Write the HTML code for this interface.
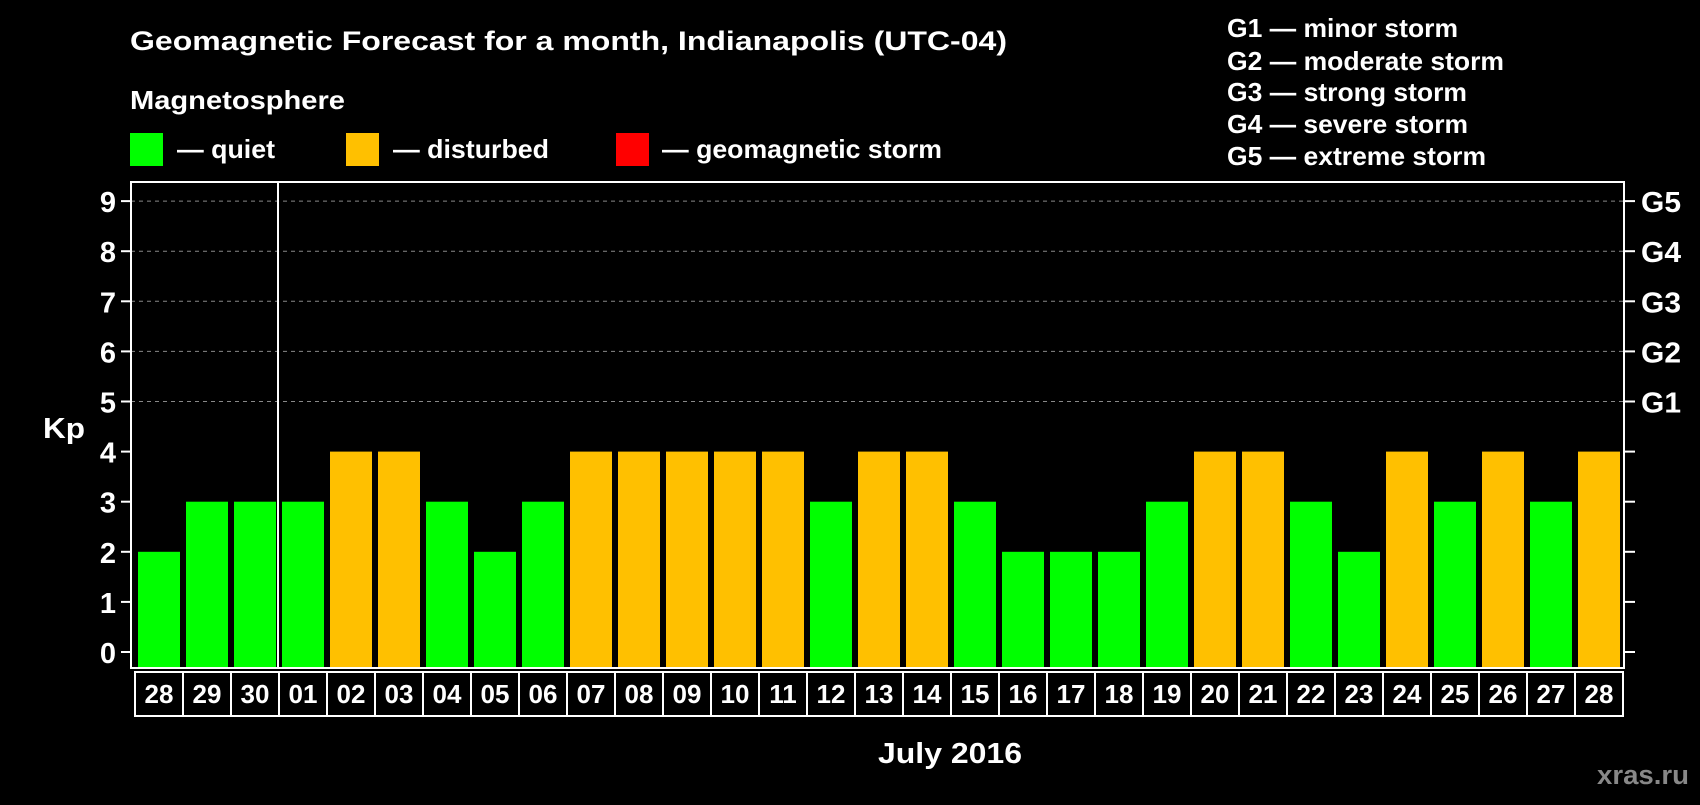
<!DOCTYPE html>
<html><head><meta charset="utf-8"><style>
body{margin:0;background:#000;width:1700px;height:800px;overflow:hidden;font-family:"Liberation Sans",sans-serif}
svg text{font-family:"Liberation Sans",sans-serif;font-weight:bold;fill:#fff}
</style></head><body>
<svg id="c" width="1700" height="800">
<text x="130" y="50" font-size="27" textLength="877" lengthAdjust="spacingAndGlyphs">Geomagnetic Forecast for a month, Indianapolis (UTC-04)</text>
<text x="130" y="109" font-size="26" textLength="215" lengthAdjust="spacingAndGlyphs">Magnetosphere</text>
<rect x="130" y="133" width="33" height="33" fill="#00ff00"/>
<text x="177" y="158" font-size="26" textLength="98" lengthAdjust="spacingAndGlyphs">— quiet</text>
<rect x="346" y="133" width="33" height="33" fill="#ffc000"/>
<text x="393" y="158" font-size="26" textLength="156" lengthAdjust="spacingAndGlyphs">— disturbed</text>
<rect x="616" y="133" width="33" height="33" fill="#ff0000"/>
<text x="662" y="158" font-size="26" textLength="280" lengthAdjust="spacingAndGlyphs">— geomagnetic storm</text>
<g font-size="26">
<text x="1227" y="37" textLength="231" lengthAdjust="spacingAndGlyphs">G1 — minor storm</text>
<text x="1227" y="70" textLength="277" lengthAdjust="spacingAndGlyphs">G2 — moderate storm</text>
<text x="1227" y="101" textLength="240" lengthAdjust="spacingAndGlyphs">G3 — strong storm</text>
<text x="1227" y="133" textLength="241" lengthAdjust="spacingAndGlyphs">G4 — severe storm</text>
<text x="1227" y="165" textLength="259" lengthAdjust="spacingAndGlyphs">G5 — extreme storm</text>
</g>
<text x="43" y="438" font-size="29" textLength="42" lengthAdjust="spacingAndGlyphs">Kp</text>
<text x="878" y="763" font-size="29" textLength="144" lengthAdjust="spacingAndGlyphs">July 2016</text>
<text x="1597" y="784" font-size="27" textLength="92" lengthAdjust="spacingAndGlyphs" style="fill:#888">xras.ru</text>
<g id="plot"></g>
</svg>
<script>
const categories=["28","29","30","01","02","03","04","05","06","07","08","09","10","11","12","13","14","15","16","17","18","19","20","21","22","23","24","25","26","27","28"];
const kpValues=[2,3,3,3,4,4,3,2,3,4,4,4,4,4,3,4,4,3,2,2,2,3,4,4,3,2,4,3,4,3,4];
const yTicks=[0,1,2,3,4,5,6,7,8,9];
const gLabels=["G1","G2","G3","G4","G5"];
const NS="http://www.w3.org/2000/svg";
const g=document.getElementById('plot');
const L=131,R=1624,T=182,B=668,x0=135,slot=48;
const y=v=>652-v*50.1;
const xs=i=>x0+i*slot;
function mk(t,a){const e=document.createElementNS(NS,t);for(const k in a)e.setAttribute(k,a[k]);g.appendChild(e);return e;}
yTicks.forEach(v=>{
  if(v>=5){const l=mk('line',{x1:L,x2:R,y1:y(v),y2:y(v),stroke:'#888','stroke-dasharray':'4,4','stroke-width':1});
  
  }
  const t1=mk('line',{x1:121,x2:L,y1:y(v),y2:y(v),stroke:'#fff','stroke-width':2});
  
  
  const t2=mk('line',{x1:R,x2:1635,y1:y(v),y2:y(v),stroke:'#fff','stroke-width':2});
  
  
  const tx=mk('text',{x:116,y:y(v)+11,'font-size':29,'text-anchor':'end'});tx.textContent=v;
  
  
});
gLabels.forEach((s,i)=>{const t=mk('text',{x:1641,y:y(i+5)+11,'font-size':29,textLength:40,lengthAdjust:'spacingAndGlyphs'});t.textContent=s;
  
  });
kpValues.forEach((v,i)=>{
  const b=mk('rect',{x:xs(i)+3,y:y(v),width:42,height:B-y(v),fill:v>=5?'#ff0000':v>=4?'#ffc000':'#00ff00'});
  
  
  const c=mk('rect',{x:xs(i),y:672,width:slot,height:44,fill:'none',stroke:'#fff','stroke-width':2});
  
  
  const t=mk('text',{x:xs(i)+slot/2,y:703,'font-size':26,'text-anchor':'middle'});t.textContent=categories[i];
  
  
});
const f=mk('rect',{x:L,y:T,width:R-L,height:B-T,fill:'none',stroke:'#fff','stroke-width':2});


const sep=mk('line',{x1:xs(3)-1,x2:xs(3)-1,y1:T,y2:B,stroke:'#fff','stroke-width':2});


</script>
</body></html>
